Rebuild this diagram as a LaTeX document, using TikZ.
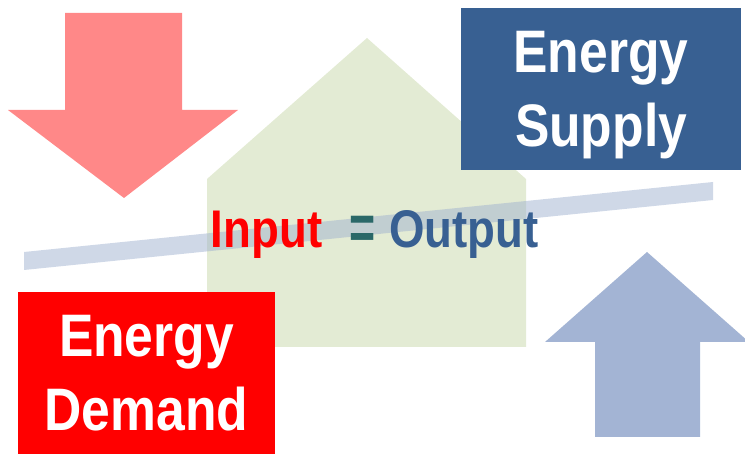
\documentclass[tikz,border=0pt]{standalone}
\usepackage{fontspec}
\setmainfont{Liberation Sans}[FakeStretch=0.86]
\usepackage{tikz}

\definecolor{demandred}{RGB}{255,0,0}
\definecolor{supplyblue}{RGB}{56,96,146}
\definecolor{arrowred}{RGB}{255,136,136}
\definecolor{arrowblue}{RGB}{163,180,212}
\definecolor{housegreen}{RGB}{227,235,212}
\definecolor{barblue}{RGB}{160,178,208}
\definecolor{eqteal}{RGB}{42,104,104}

\tikzset{
  box/.style={inner sep=0pt, text=white, align=center, text depth=0pt,
    font=\fontsize{60}{74}\selectfont\bfseries},
  word/.style={inner sep=0pt, anchor=base, font=\fontsize{53}{60}\selectfont\bfseries},
  eqsign/.style={inner sep=0pt, font=\fontsize{40}{40}\selectfont\bfseries}
}

\begin{document}
\begin{tikzpicture}[x=1pt, y=-1pt]
\useasboundingbox (0,0) rectangle (745,454);

\fill[housegreen] (207,347) -- (207,179) -- (367,38) -- (526,179) -- (526,347) -- cycle;
\fill[barblue, opacity=0.5] (24,252) -- (713,182) -- (713,200) -- (24,270) -- cycle;

\fill[arrowred] (65,13) -- (182,13) -- (182,110) -- (238,110) -- (124,198)
  -- (8,110) -- (65,110) -- cycle;
\fill[arrowblue] (595,437) -- (700,437) -- (700,342) -- (745,342) -- (745,338.5)
  -- (647,252) -- (545,342) -- (595,342) -- cycle;

\node[box, fill=supplyblue, minimum width=280pt, minimum height=162pt] (supply) at (601,89) {Energy\\Supply};
\node[box, fill=demandred, minimum width=257pt, minimum height=162pt] (demand) at (146.5,373) {Energy\\Demand};

\node[word, text=demandred] (input) at (266.5,248) {Input};
\node[word, text=supplyblue] (output) at (464,248) {Output};
\node[eqsign, text=eqteal] (eq) at (363,232.5) {\scalebox{1.3}[1.6]{=}};
\end{tikzpicture}
\end{document}
